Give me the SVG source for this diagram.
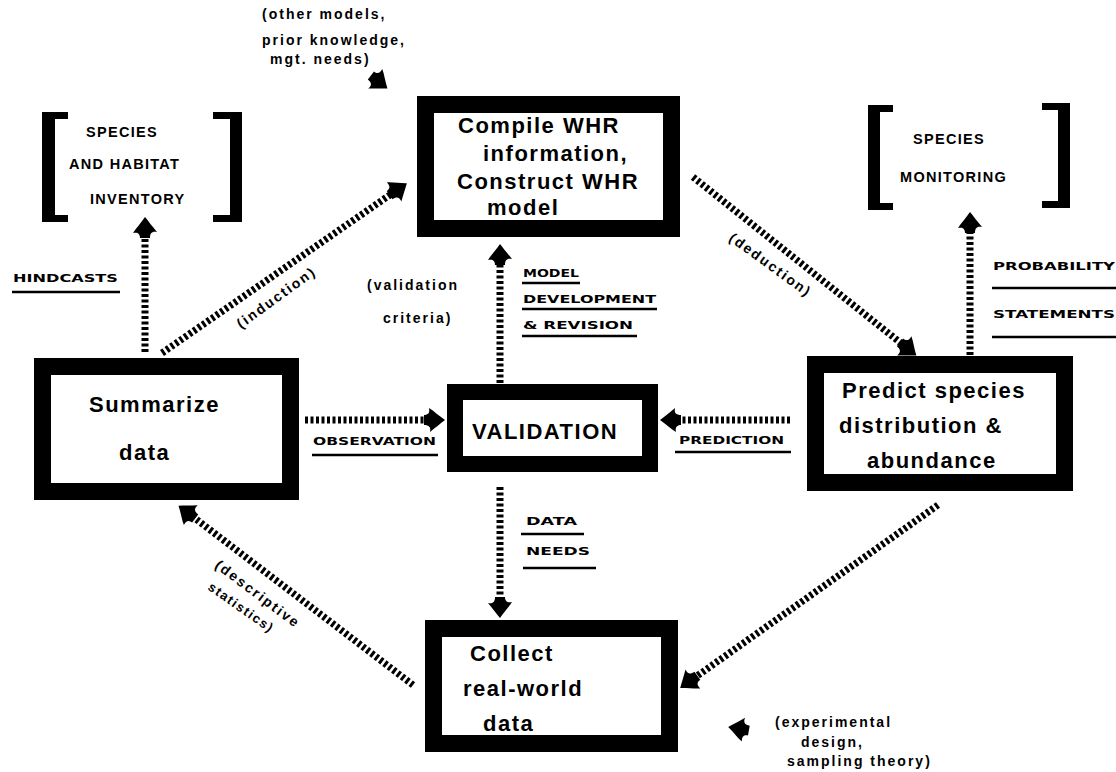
<svg xmlns="http://www.w3.org/2000/svg" xmlns:xlink="http://www.w3.org/1999/xlink" width="1116" height="772" viewBox="0 0 1116 772">
  <style>
    .box { fill: #fff; stroke: #000; }
    .btxt { font-family: "Liberation Sans", Arial, sans-serif; font-weight: 700; font-size: 22px; letter-spacing: 1.5px; fill: #000; }
    .brk { fill: #000; }
    .cap { font-family: "Liberation Sans", Arial, sans-serif; font-weight: 700; font-size: 14.5px; letter-spacing: 1.3px; fill: #000; }
    .note { font-family: "Liberation Sans", Arial, sans-serif; font-weight: 700; font-size: 14px; letter-spacing: 2px; fill: #000; }
    .lab { font-family: "DejaVu Sans", Verdana, sans-serif; font-weight: 700; font-size: 11px; fill: #000; }
    .ul { stroke: #000; stroke-width: 2.5; }
    .flow { stroke: #000; stroke-width: 7; stroke-dasharray: 3 2.5; fill: none; marker-end: url(#ah); }
  </style>
  <defs>
    <!-- swept arrowhead, tip at (12,0) pointing along +x -->
    <path id="head" d="M12,0 C6,-4 1,-9 -4,-12 C-3,-7 -5,-5 -9,-5 L-9,5 C-4,5 -2,7 -3,12 C3,7 7,4 12,0 Z"/>
    <marker id="ah" markerUnits="userSpaceOnUse" viewBox="-15 -15 30 30" markerWidth="30" markerHeight="30" refX="0" refY="0" orient="auto" overflow="visible">
      <use xlink:href="#head" href="#head"/>
    </marker>
  </defs>

  <!-- connectors -->
  <g id="connectors">
    <line class="flow" x1="145" y1="352" x2="145" y2="229"/>
    <line class="flow" x1="162" y1="353" x2="397" y2="190"/>
    <line class="flow" x1="693" y1="177" x2="907" y2="348"/>
    <line class="flow" x1="500" y1="383" x2="500" y2="256"/>
    <line class="flow" x1="305" y1="420" x2="433" y2="420"/>
    <line class="flow" x1="790" y1="420" x2="672" y2="420"/>
    <line class="flow" x1="500" y1="487" x2="500" y2="606"/>
    <line class="flow" x1="413" y1="685" x2="188" y2="513"/>
    <line class="flow" x1="938" y1="505" x2="690" y2="681"/>
    <line class="flow" x1="970" y1="355" x2="970" y2="224"/>
    <!-- free-standing input arrows -->
    <use href="#head" xlink:href="#head" transform="translate(378,81) rotate(38)"/>
    <use href="#head" xlink:href="#head" transform="translate(740,729) rotate(190)"/>
  </g>

  <!-- connector labels -->
  <g id="labels">
    <text class="note" x="262" y="19">(other models,</text>
    <text class="note" x="262" y="45">prior knowledge,</text>
    <text class="note" x="270" y="64">mgt. needs)</text>

    <text class="lab" x="13" y="282" textLength="105" lengthAdjust="spacingAndGlyphs">HINDCASTS</text>
    <line class="ul" x1="12" y1="292" x2="120" y2="292"/>

    <text class="note" x="241" y="329" transform="rotate(-36 241 329)">(induction)</text>
    <text class="note" x="728" y="240" transform="rotate(36 728 240)">(deduction)</text>

    <text class="note" x="367" y="290">(validation</text>
    <text class="note" x="383" y="323">criteria)</text>

    <text class="lab" x="523" y="277" textLength="56" lengthAdjust="spacingAndGlyphs">MODEL</text>
    <line class="ul" x1="522" y1="283" x2="580" y2="283"/>
    <text class="lab" x="523" y="303" textLength="133" lengthAdjust="spacingAndGlyphs">DEVELOPMENT</text>
    <line class="ul" x1="522" y1="309" x2="657" y2="309"/>
    <text class="lab" x="523" y="329" textLength="110" lengthAdjust="spacingAndGlyphs">&amp; REVISION</text>
    <line class="ul" x1="522" y1="336" x2="637" y2="336"/>

    <text class="lab" x="993" y="270" textLength="122" lengthAdjust="spacingAndGlyphs">PROBABILITY</text>
    <line class="ul" x1="992" y1="288" x2="1116" y2="288"/>
    <text class="lab" x="993" y="318" textLength="122" lengthAdjust="spacingAndGlyphs">STATEMENTS</text>
    <line class="ul" x1="992" y1="337" x2="1116" y2="337"/>

    <text class="lab" x="313" y="445" textLength="123" lengthAdjust="spacingAndGlyphs">OBSERVATION</text>
    <line class="ul" x1="312" y1="455" x2="438" y2="455"/>
    <text class="lab" x="679" y="444" textLength="105" lengthAdjust="spacingAndGlyphs">PREDICTION</text>
    <line class="ul" x1="675" y1="452" x2="791" y2="452"/>

    <text class="lab" x="526" y="525" textLength="51" lengthAdjust="spacingAndGlyphs">DATA</text>
    <line class="ul" x1="521" y1="534" x2="584" y2="534"/>
    <text class="lab" x="526" y="555" textLength="64" lengthAdjust="spacingAndGlyphs">NEEDS</text>
    <line class="ul" x1="523" y1="568" x2="596" y2="568"/>

    <text class="note" x="214" y="567" transform="rotate(37 214 567)">(descriptive</text>
    <text class="note" style="font-size:13px;letter-spacing:1.5px" x="207" y="589" transform="rotate(35 207 589)">statistics)</text>

    <text class="note" x="775" y="727">(experimental</text>
    <text class="note" x="801" y="747">design,</text>
    <text class="note" x="787" y="766">sampling theory)</text>
  </g>

  <!-- bracketed outputs -->
  <g id="inventory">
    <path class="brk" d="M42,112 H68 V119 H55 V215 H68 V222 H42 Z"/>
    <path class="brk" d="M242,112 H213 V119 H230 V215 H213 V222 H242 Z"/>
    <text class="cap" x="86" y="137">SPECIES</text>
    <text class="cap" x="69" y="169">AND HABITAT</text>
    <text class="cap" x="90" y="204">INVENTORY</text>
  </g>
  <g id="monitoring">
    <path class="brk" d="M868,105 H893 V112 H880 V203 H893 V210 H868 Z"/>
    <path class="brk" d="M1070,103 H1042 V110 H1058 V201 H1042 V208 H1070 Z"/>
    <text class="cap" x="913" y="144">SPECIES</text>
    <text class="cap" x="900" y="182">MONITORING</text>
  </g>

  <!-- process boxes -->
  <g id="compile">
    <rect class="box" x="425.5" y="104.5" width="246" height="124" stroke-width="17"/>
    <text class="btxt" x="458" y="133">Compile WHR</text>
    <text class="btxt" x="483" y="161">information,</text>
    <text class="btxt" x="457" y="189">Construct WHR</text>
    <text class="btxt" x="487" y="215">model</text>
  </g>
  <g id="summarize">
    <rect class="box" x="42.5" y="366.5" width="248" height="125" stroke-width="17"/>
    <text class="btxt" x="89" y="412">Summarize</text>
    <text class="btxt" x="119" y="460">data</text>
  </g>
  <g id="validation">
    <rect class="box" x="455" y="392" width="195" height="72" stroke-width="16"/>
    <text class="btxt" x="472" y="439">VALIDATION</text>
  </g>
  <g id="predict">
    <rect class="box" x="815.5" y="364.5" width="249" height="118" stroke-width="17"/>
    <text class="btxt" x="842" y="398">Predict species</text>
    <text class="btxt" x="839" y="433">distribution &amp;</text>
    <text class="btxt" x="867" y="468">abundance</text>
  </g>
  <g id="collect">
    <rect class="box" x="433.5" y="628.5" width="236" height="115" stroke-width="17"/>
    <text class="btxt" x="470" y="661">Collect</text>
    <text class="btxt" x="463" y="696">real-world</text>
    <text class="btxt" x="483" y="731">data</text>
  </g>
</svg>
